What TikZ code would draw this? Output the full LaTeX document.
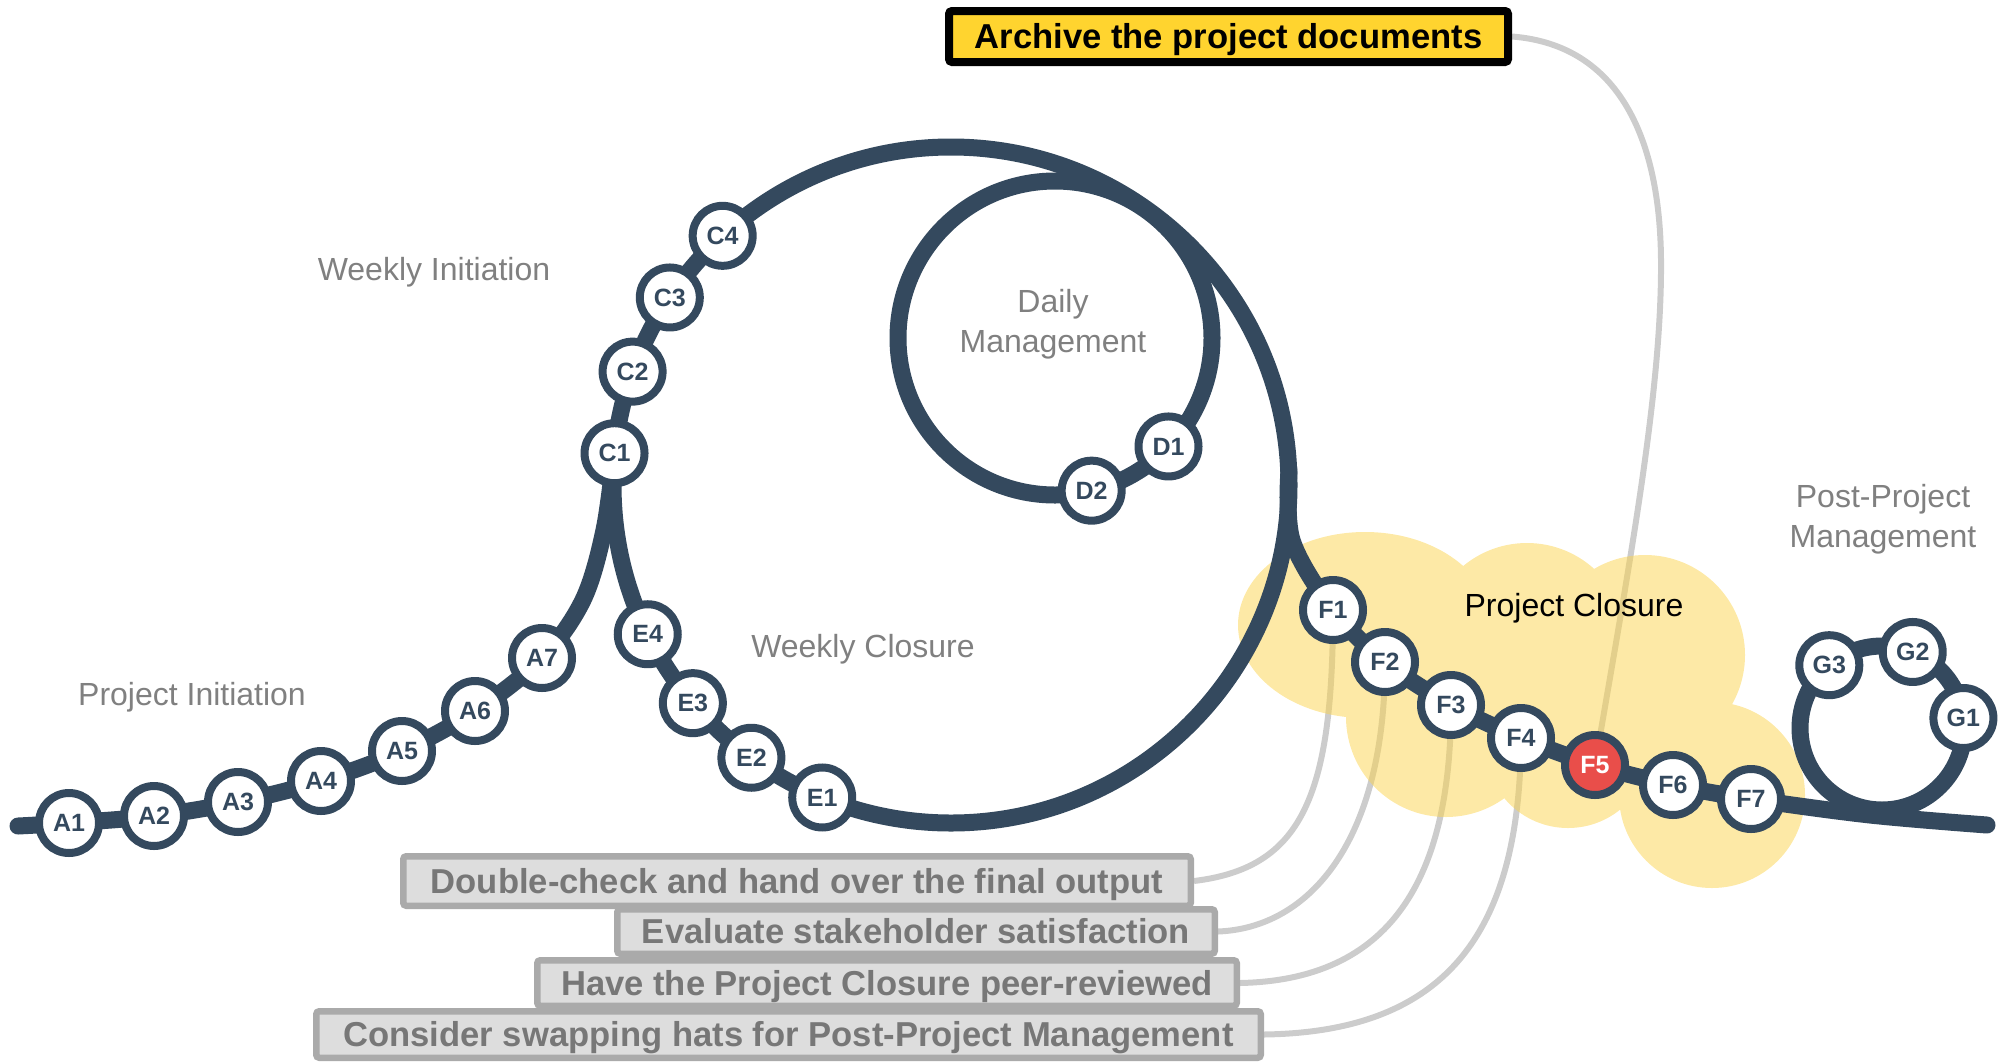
\documentclass[tikz,border=0pt]{standalone}
\usepackage{fontspec}
\setmainfont{Liberation Sans}
\definecolor{trackc}{RGB}{52,73,94}
\definecolor{redf}{RGB}{233,78,74}
\definecolor{glinec}{RGB}{204,204,204}
\definecolor{cloudc}{RGB}{251,211,77}
\definecolor{archfill}{RGB}{255,212,47}
\definecolor{boxfill}{RGB}{221,221,221}
\definecolor{boxdraw}{RGB}{170,170,170}
\definecolor{boxtext}{RGB}{119,119,119}
\definecolor{lblc}{RGB}{128,128,128}
\pgfdeclarelayer{glayer}
\pgfdeclarelayer{clayer}
\pgfdeclarelayer{tlayer}
\pgfsetlayers{glayer,clayer,tlayer,main}
\tikzset{
  stn/.style={circle, draw=trackc, line width=4pt, fill=white, minimum size=30pt, inner sep=0pt, font=\fontsize{12.5}{14}\selectfont\bfseries, text=trackc},
  hot/.style={fill=redf, text=white},
  track/.style={draw=trackc, line width=8.5pt, line cap=round, line join=round},
  glink/.style={draw=glinec, line width=3pt},
  taskbox/.style={draw=boxdraw, fill=boxfill, line width=3.25pt, rounded corners=1.5pt, text=boxtext, font=\fontsize{17.3}{20}\selectfont\bfseries, inner sep=0pt, text height=12.4pt, text depth=0pt},
  archbox/.style={draw=black, fill=archfill, line width=4pt, rounded corners=1.5pt, text=black, font=\fontsize{17.3}{20}\selectfont\bfseries, inner sep=0pt, minimum height=25.5pt, minimum width=279.5pt, text height=12.4pt, text depth=0pt},
  phase/.style={text=lblc, font=\fontsize{16}{19.8}\selectfont, align=center},
}
\begin{document}
\begin{tikzpicture}[x=0.5pt,y=-0.5pt]
\useasboundingbox (0,0) rectangle (2002,1061);

% stations
\node[stn] (A1) at (69,823) {A1};
\node[stn] (A2) at (154,816) {A2};
\node[stn] (A3) at (238,802) {A3};
\node[stn] (A4) at (321,781) {A4};
\node[stn] (A5) at (402,751) {A5};
\node[stn] (A6) at (475,711) {A6};
\node[stn] (A7) at (542,658) {A7};
\node[stn] (C1) at ([shift={(951,485)}]185.4:338) {C1};
\node[stn] (C2) at ([shift={(951,485)}]199.6:338) {C2};
\node[stn] (C3) at ([shift={(951,485)}]213.7:338) {C3};
\node[stn] (C4) at ([shift={(951,485)}]227.5:338) {C4};
\node[stn] (E4) at ([shift={(951,485)}]153.8:338) {E4};
\node[stn] (E3) at ([shift={(951,485)}]139.8:338) {E3};
\node[stn] (E2) at ([shift={(951,485)}]126.2:338) {E2};
\node[stn] (E1) at ([shift={(951,485)}]112.4:338) {E1};
\node[stn] (D1) at ([shift={(1055,338)}]43.7:157) {D1};
\node[stn] (D2) at ([shift={(1055,338)}]76.5:157) {D2};
\node[stn] (F1) at (1333,610) {F1};
\node[stn] (F2) at (1385,662) {F2};
\node[stn] (F3) at (1451,705) {F3};
\node[stn] (F4) at (1521,738) {F4};
\node[stn,hot] (F5) at (1595,765) {F5};
\node[stn] (F6) at (1673,785) {F6};
\node[stn] (F7) at (1751,799) {F7};
\node[stn] (G3) at ([shift={(1882,728)}]230:82) {G3};
\node[stn] (G2) at ([shift={(1882,728)}]292:82) {G2};
\node[stn] (G1) at ([shift={(1882,728)}]353:82) {G1};

% task boxes
\node[archbox] (arch) at (1228.5,36.5) {Archive the project documents};
\node[taskbox, minimum width=393.75pt, minimum height=24.75pt] (t1) at (797,881) {Double-check and hand over the final output};
\node[taskbox, minimum width=298.75pt, minimum height=22.25pt] (t2) at (916,931.5) {Evaluate stakeholder satisfaction};
\node[taskbox, minimum width=349.75pt, minimum height=22.75pt] (t3) at (887,983) {Have the Project Closure peer-reviewed};
\node[taskbox, minimum width=472.25pt, minimum height=23.25pt] (t4) at (788.5,1034.5) {Consider swapping hats for Post-Project Management};

% phase labels
\node[phase] (lwi) at (434,272) {Weekly Initiation};
\node[phase] (lpi) at (192,697) {Project Initiation};
\node[phase] (lwc) at (863,649) {Weekly Closure};
\node[phase] (ldm) at (1053,324) {Daily\\Management};
\node[phase, text=black] (lpc) at (1574,608) {Project Closure};
\node[phase] (lpp) at (1883,519) {Post-Project\\Management};

% gray links
\begin{pgfonlayer}{glayer}
\draw[glink] (F1.center) .. controls (1333,800) and (1300,868) .. (t1.east);
\draw[glink] (F2.center) .. controls (1385,840) and (1310,928) .. (t2.east);
\draw[glink] (F3.center) .. controls (1451,880) and (1390,980) .. (t3.east);
\draw[glink] (F4.center) .. controls (1520,940) and (1440,1032) .. (t4.east);
\draw[glink] (F5.center) .. controls (1630,560) and (1662,390) .. (1661,260) .. controls (1660,140) and (1620,45) .. (arch.east);
\end{pgfonlayer}

% cloud
\begin{pgfonlayer}{clayer}
\fill[cloudc, opacity=0.5] (1365,625) ellipse [x radius=127, y radius=93]
  (1527,643) circle[radius=100]
  (1645,655) circle[radius=100]
  (1712,795) circle[radius=93]
  (1568,745) circle[radius=83]
  (1446,717) circle[radius=100];
\end{pgfonlayer}

% tracks
\begin{pgfonlayer}{tlayer}
\draw[track] (951,485) circle[radius=338];
\draw[track] (1055,338) circle[radius=157];
\draw[track] (1882,728) circle[radius=82];
\draw[track] plot[smooth, tension=0.55] coordinates {(18,826) (A1.center) (A2.center) (A3.center) (A4.center) (A5.center) (A6.center) (A7.center) (583,600) (604,530) (C1.center)};
\draw[track] plot[smooth, tension=0.55] coordinates {(1289,470) (1292,540) (F1.center) (F2.center) (F3.center) (F4.center) (F5.center) (F6.center) (F7.center) (1870,815) (1987,825)};
\end{pgfonlayer}
\end{tikzpicture}
\end{document}
